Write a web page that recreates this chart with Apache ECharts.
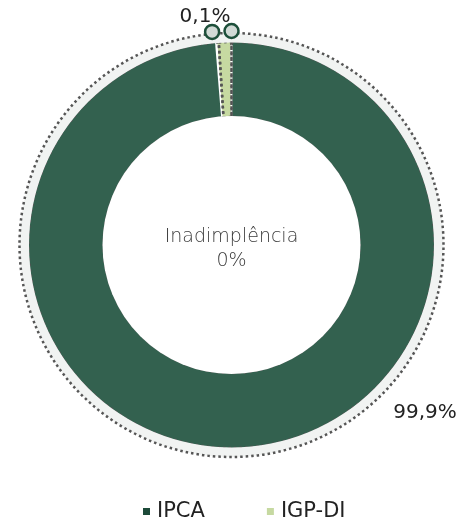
<!DOCTYPE html>
<html><head><meta charset="utf-8">
<script src="https://cdn.jsdelivr.net/npm/echarts@6/dist/echarts.min.js"></script>
<style>html,body{margin:0;padding:0;background:#fff}#c{width:466px;height:519px}</style>
</head><body><div id="c"></div>
<script>
const categories = ['IPCA', 'IGP-DI'];
const values = [99.9, 0.1];
const centerTitle = 'Inadimplência';
const centerValue = '0%';
const markerAngles = [0, 354.8];

const colors = ['#33614f', '#c6d9a1'];
const legendColors = ['#1d4a39', '#c6d9a1'];
const C = [231.5, 245];
const FONT = '"DejaVu Sans", sans-serif';
const fmt = v => v.toFixed(1).replace('.', ',') + '%';
const labelPos = [[425, 413], [205, 17]];

const data = categories.map((n, i) => ({ name: n, value: values[i], itemStyle: { color: colors[i] } }));

const chart = echarts.init(document.getElementById('c'), null, { renderer: 'canvas' });
chart.setOption({
  animation: false,
  backgroundColor: '#fff',
  legend: {
    top: 501, left: 143, icon: 'rect', itemWidth: 7, itemHeight: 7, itemGap: 62, padding: 0,
    textStyle: { fontFamily: FONT, fontSize: 21, fontWeight: 'normal', color: '#222', padding: [0, 0, 0, 2] },
    data: categories.map((n, i) => ({ name: n, itemStyle: { color: legendColors[i] } }))
  },
  polar: { center: C, radius: 214 },
  angleAxis: { type: 'value', min: 0, max: 360, startAngle: 90, clockwise: true, show: false },
  radiusAxis: { min: 0, max: 1, show: false },
  graphic: [{
    type: 'text', x: C[0], y: C[1] + 4, z: 100,
    style: { text: centerTitle + '\n' + centerValue, fill: '#3a3a3a', font: '200 19px ' + FONT, align: 'center', verticalAlign: 'middle', lineHeight: 24 }
  }],
  series: [
    { type: 'pie', name: 'bg', silent: true, z: 1, center: C, radius: [201, 212], label: { show: false }, labelLine: { show: false },
      itemStyle: { color: '#f1f3f2', borderColor: '#555', borderWidth: 2.5, borderType: [2.5, 3] },
      data: [{ value: 1, name: 'bg' }] },
    { type: 'pie', name: 'main', z: 2, center: C, radius: [128, 203], startAngle: 90, clockwise: true,
      minAngle: 3.6, padAngle: 0.7, avoidLabelOverlap: false,
      label: { show: true, position: 'outside', formatter: p => fmt(p.value), fontFamily: FONT, fontSize: 20, fontWeight: 'normal', color: '#222' },
      labelLine: { show: false },
      labelLayout: p => ({ x: labelPos[p.dataIndex][0], y: labelPos[p.dataIndex][1], align: 'center', verticalAlign: 'middle' }),
      data: data },
    { type: 'pie', name: 'dots', silent: true, z: 3, center: C, radius: [128, 203], startAngle: 90, clockwise: true,
      minAngle: 3.6, label: { show: false }, labelLine: { show: false },
      itemStyle: { color: 'rgba(0,0,0,0)', borderColor: '#555', borderWidth: 2.5, borderType: [2.5, 3] },
      data: categories.map((n, i) => ({ name: n + ' ', value: values[i] })) },
    { type: 'pie', name: 'coverOut', silent: true, z: 4, center: C, radius: [202.5, 205.5], label: { show: false }, labelLine: { show: false },
      itemStyle: { color: '#f1f3f2' }, data: [{ value: 1, name: 'co' }] },
    { type: 'pie', name: 'coverIn', silent: true, z: 4, center: C, radius: [0, 129], label: { show: false }, labelLine: { show: false },
      itemStyle: { color: '#fff' }, data: [{ value: 1, name: 'ci' }] },
    { type: 'scatter', coordinateSystem: 'polar', z: 10, silent: true, symbol: 'circle', symbolSize: 14,
      itemStyle: { color: '#d2dad6', borderColor: '#1d4f3a', borderWidth: 2.5, opacity: 1 },
      data: markerAngles.map(a => [1, a]) }
  ]
});
</script></body></html>
